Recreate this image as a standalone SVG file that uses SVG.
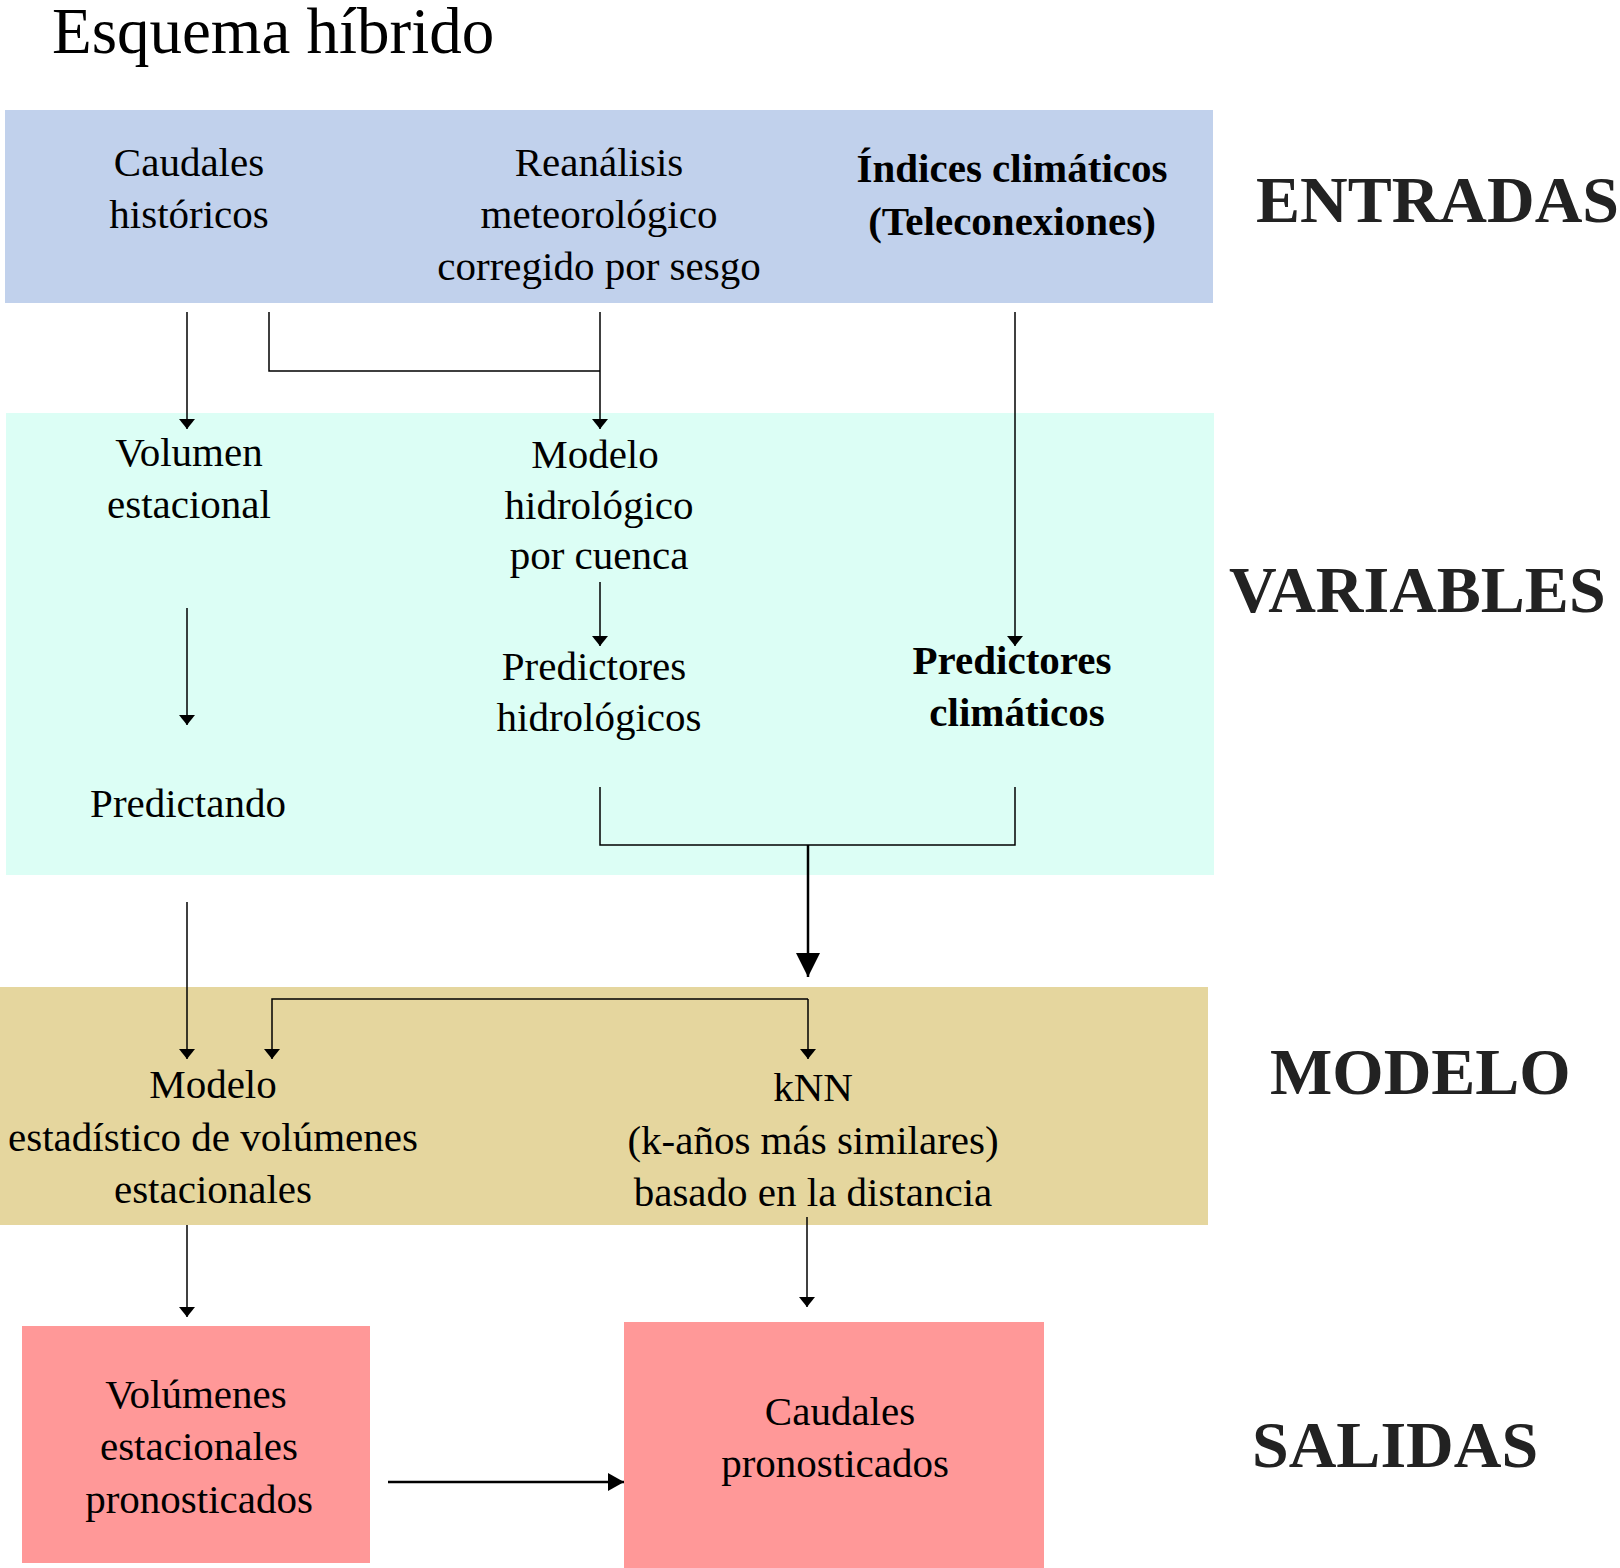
<svg xmlns="http://www.w3.org/2000/svg" width="1620" height="1568" viewBox="0 0 1620 1568">
<defs>
<style>
text{font-family:"Liberation Serif","Times New Roman",serif;fill:#000;text-anchor:middle}
.t{font-size:41px}
.b{font-size:41px;font-weight:bold}
.h{font-size:66px;font-weight:bold;fill:#222;text-anchor:start}
.ttl{font-size:65px;text-anchor:start}
.c{fill:none;stroke:#000;stroke-width:1.5}
.ck{fill:none;stroke:#000;stroke-width:2.5}
</style>
<marker id="a" viewBox="0 0 10 16" refX="10" refY="8" markerWidth="10" markerHeight="16" markerUnits="userSpaceOnUse" orient="auto"><path d="M0,0L10,8L0,16z" fill="#000"/></marker>
<marker id="ab" viewBox="0 0 24 24" refX="24" refY="12" markerWidth="24" markerHeight="24" markerUnits="userSpaceOnUse" orient="auto"><path d="M0,0L24,12L0,24z" fill="#000"/></marker>
<marker id="am" viewBox="0 0 16 18" refX="16" refY="9" markerWidth="16" markerHeight="18" markerUnits="userSpaceOnUse" orient="auto"><path d="M0,0L16,9L0,18z" fill="#000"/></marker>
</defs>
<rect width="1620" height="1568" fill="#fff"/>
<text class="ttl" x="52" y="53">Esquema híbrido</text>
<g id="bands">
<rect x="5" y="110" width="1208" height="193" fill="#C1D1EC"/>
<rect x="6" y="413" width="1208" height="462" fill="#DCFEF5"/>
<rect x="0" y="987" width="1208" height="238" fill="#E5D69E"/>
</g>
<g id="labels">
<text class="h" x="1256" y="222">ENTRADAS</text>
<text class="h" x="1229" y="612">VARIABLES</text>
<text class="h" x="1270" y="1094">MODELO</text>
<text class="h" x="1252" y="1467">SALIDAS</text>
</g>
<g id="caudales-historicos"><text class="t" x="189"><tspan x="189" y="176">Caudales</tspan><tspan x="189" y="228">históricos</tspan></text></g>
<g id="reanalisis"><text class="t" x="599"><tspan x="599" y="176">Reanálisis</tspan><tspan x="599" y="228">meteorológico</tspan><tspan x="599" y="280">corregido por sesgo</tspan></text></g>
<g id="indices"><text class="b" x="1012"><tspan x="1012" y="182">Índices climáticos</tspan><tspan x="1012" y="235">(Teleconexiones)</tspan></text></g>
<g id="volumen-estacional"><text class="t"><tspan x="189" y="466">Volumen</tspan><tspan x="189" y="518">estacional</tspan></text></g>
<g id="modelo-hidrologico"><text class="t"><tspan x="595" y="468">Modelo</tspan><tspan x="599" y="519">hidrológico</tspan><tspan x="599" y="569">por cuenca</tspan></text></g>
<g id="predictores-hidrologicos"><text class="t"><tspan x="594" y="680">Predictores</tspan><tspan x="599" y="731">hidrológicos</tspan></text></g>
<g id="predictores-climaticos"><text class="b"><tspan x="1012" y="674">Predictores</tspan><tspan x="1017" y="726">climáticos</tspan></text></g>
<g id="predictando"><text class="t" x="188" y="817">Predictando</text></g>
<g id="modelo-estadistico"><text class="t"><tspan x="213" y="1098">Modelo</tspan><tspan x="213" y="1151">estadístico de volúmenes</tspan><tspan x="213" y="1203">estacionales</tspan></text></g>
<g id="knn"><text class="t"><tspan x="813" y="1101">kNN</tspan><tspan x="813" y="1154">(k-años más similares)</tspan><tspan x="813" y="1206">basado en la distancia</tspan></text></g>
<g id="volumenes-pronosticados"><rect x="22" y="1326" width="348" height="237" fill="#FF9898"/><text class="t"><tspan x="196" y="1408">Volúmenes</tspan><tspan x="199" y="1460">estacionales</tspan><tspan x="199" y="1513">pronosticados</tspan></text></g>
<g id="caudales-pronosticados"><rect x="624" y="1322" width="420" height="246" fill="#FF9898"/><text class="t"><tspan x="840" y="1425">Caudales</tspan><tspan x="835" y="1477">pronosticados</tspan></text></g>
<g id="connectors">
<path class="c" d="M187,312V429" marker-end="url(#a)"/>
<path class="c" d="M269,312V371H600"/>
<path class="c" d="M600,312V429" marker-end="url(#a)"/>
<path class="c" d="M1015,312V646" marker-end="url(#a)"/>
<path class="c" d="M600,582V646" marker-end="url(#a)"/>
<path class="c" d="M187,608V725" marker-end="url(#a)"/>
<path class="c" d="M600,787V845H1015V787"/>
<path class="ck" d="M808,845V977" marker-end="url(#ab)"/>
<path class="c" d="M187,902V1059" marker-end="url(#a)"/>
<path class="c" d="M808,999H272V1059" marker-end="url(#a)"/>
<path class="c" d="M808,999V1059" marker-end="url(#a)"/>
<path class="c" d="M187,1225V1317" marker-end="url(#a)"/>
<path class="c" d="M807,1217V1307" marker-end="url(#a)"/>
<path class="ck" d="M388,1482H624" marker-end="url(#am)"/>
</g>
</svg>
